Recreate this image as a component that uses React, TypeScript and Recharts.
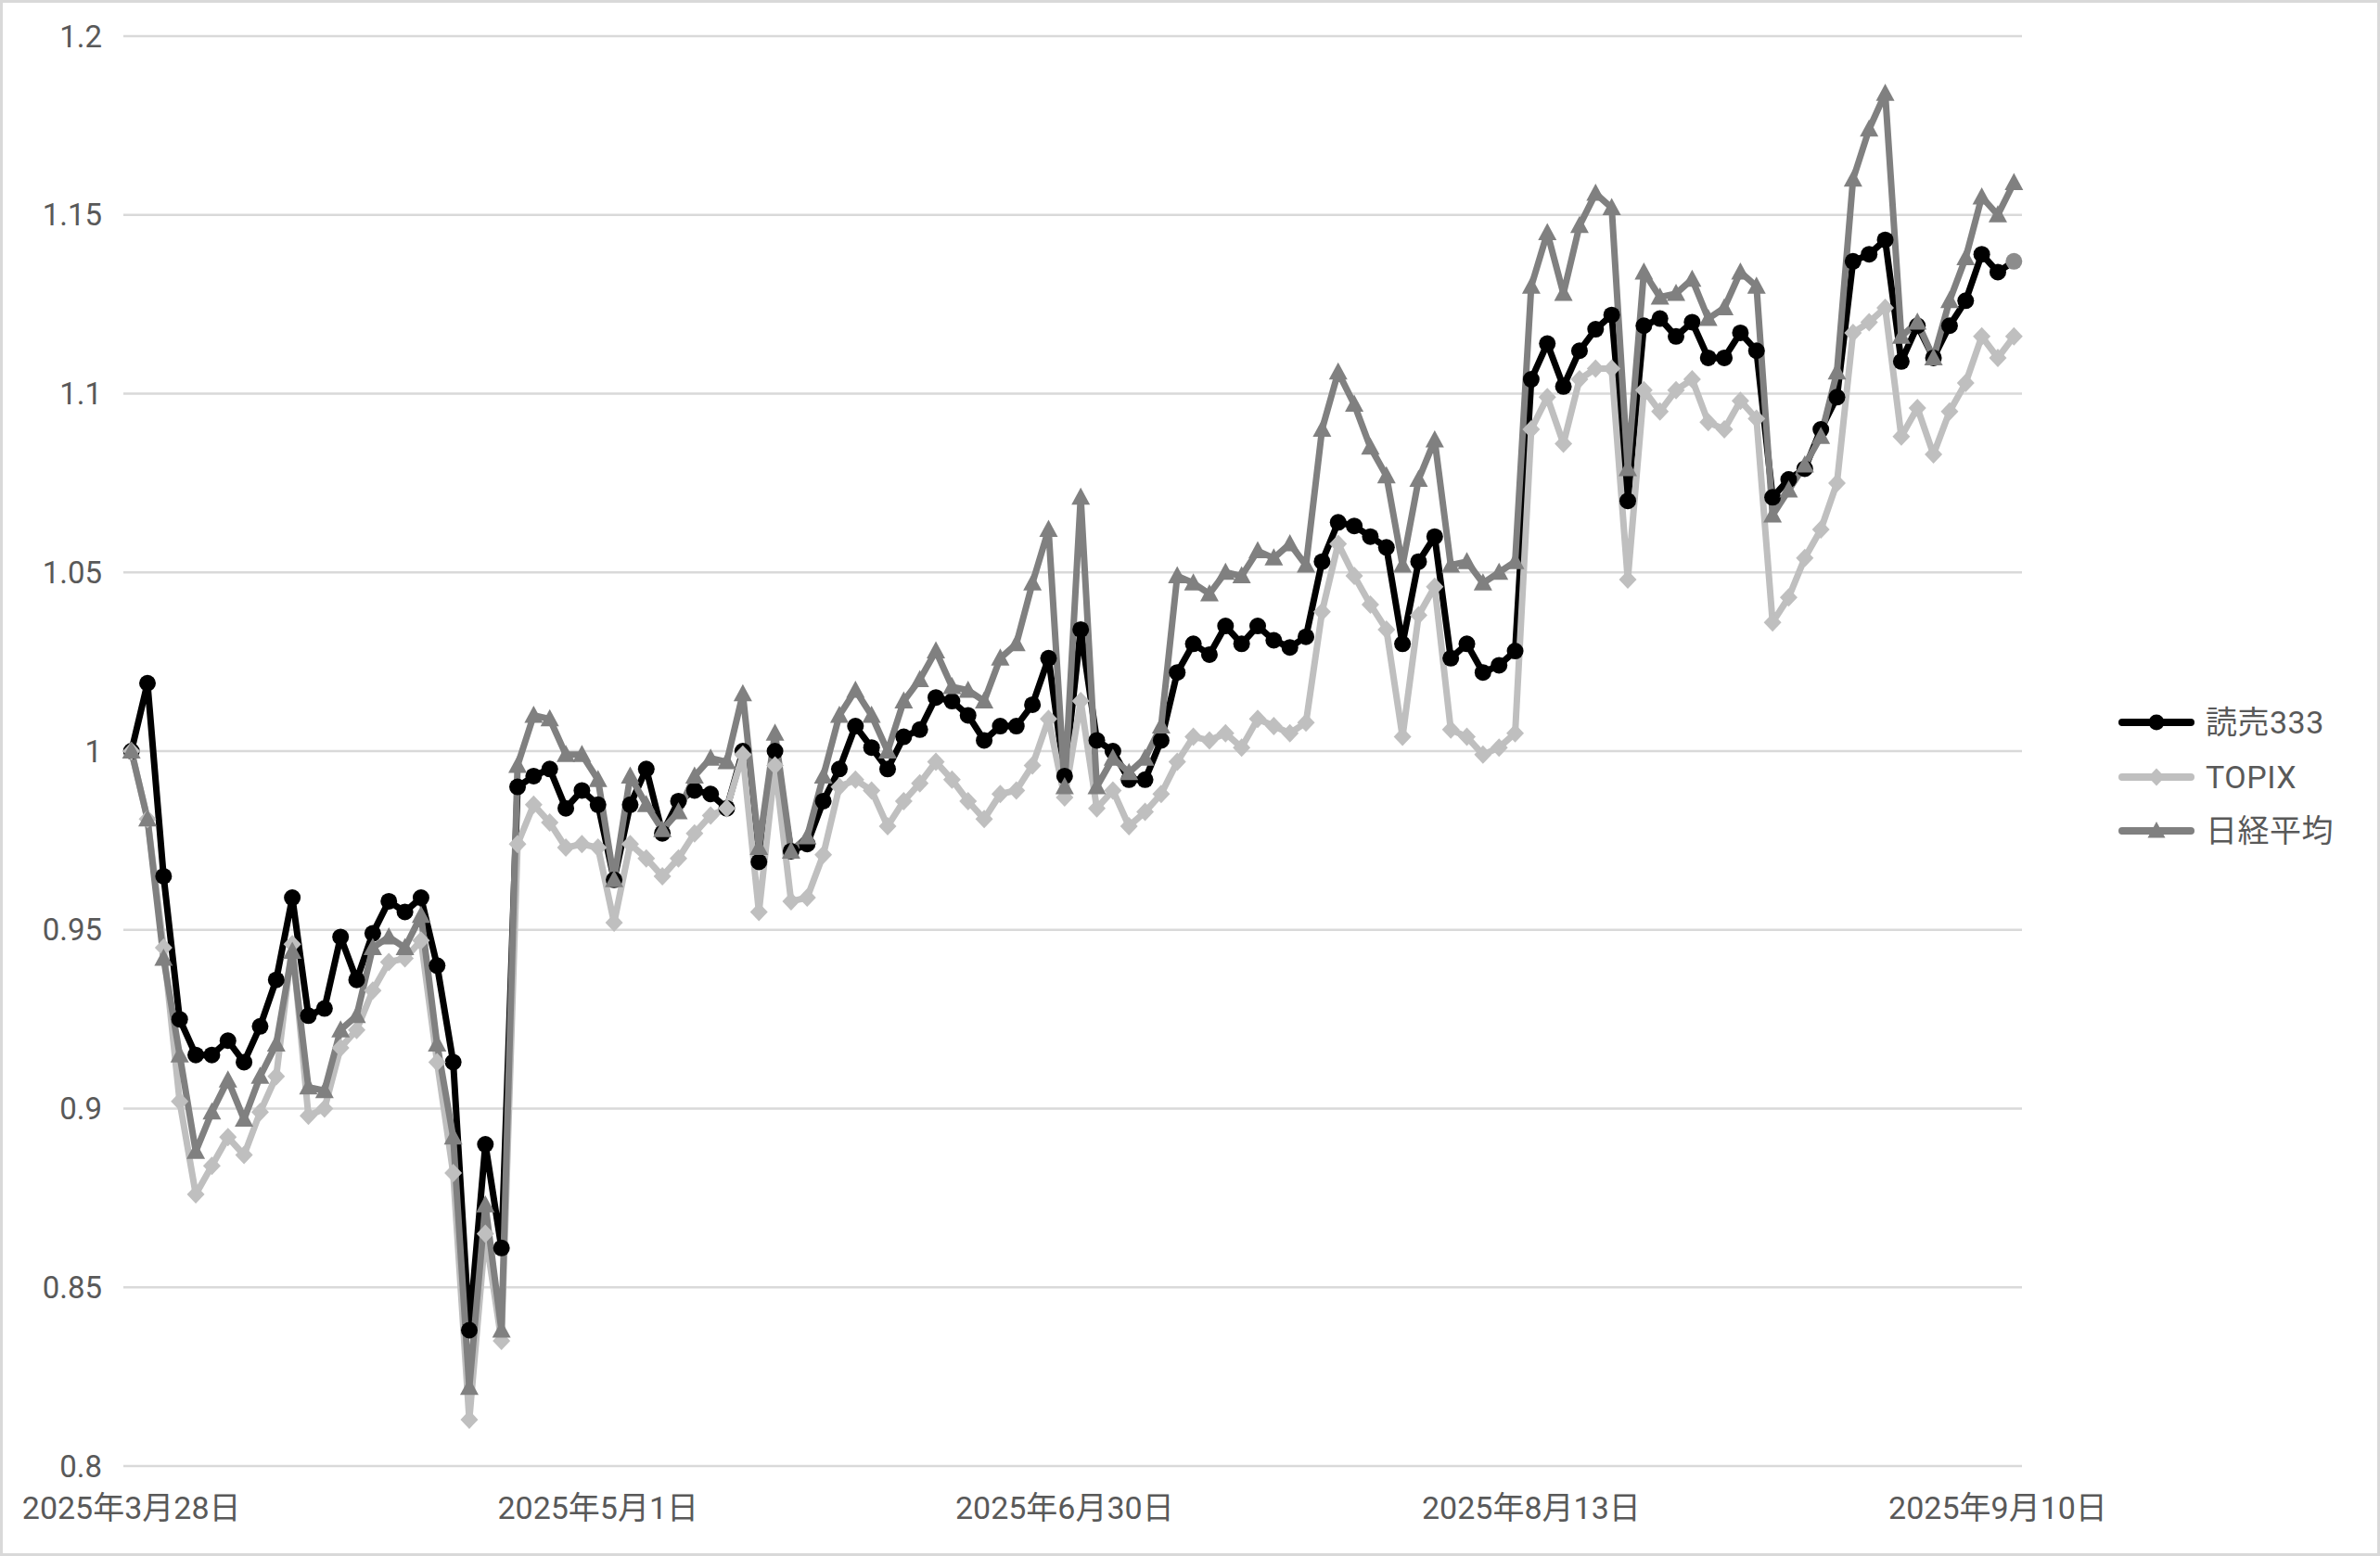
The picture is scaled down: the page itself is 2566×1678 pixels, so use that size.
import { LineChart, Line, XAxis, YAxis, CartesianGrid } from "recharts";

const tickIndex = [0, 29, 58, 87, 116];
const tickLabels = ["2025年3月28日", "2025年5月1日", "2025年6月30日", "2025年8月13日", "2025年9月10日"];
const yTicks = [0.8, 0.85, 0.9, 0.95, 1, 1.05, 1.1, 1.15, 1.2];

const yomiuri = [
  1.0, 1.019, 0.965, 0.925, 0.915, 0.915, 0.919, 0.913, 0.923, 0.936,
  0.959, 0.926, 0.928, 0.948, 0.936, 0.949, 0.958, 0.955, 0.959, 0.94,
  0.913, 0.838, 0.89, 0.861, 0.99, 0.993, 0.995, 0.984, 0.989, 0.985,
  0.964, 0.985, 0.995, 0.977, 0.986, 0.989, 0.988, 0.984, 1.0, 0.969,
  1.0, 0.972, 0.974, 0.986, 0.995, 1.007, 1.001, 0.995, 1.004, 1.006,
  1.015, 1.014, 1.01, 1.003, 1.007, 1.007, 1.013, 1.026, 0.993, 1.034,
  1.003, 1.0, 0.992, 0.992, 1.003, 1.022, 1.03, 1.027, 1.035, 1.03,
  1.035, 1.031, 1.029, 1.032, 1.053, 1.064, 1.063, 1.06, 1.057, 1.03,
  1.053, 1.06, 1.026, 1.03, 1.022, 1.024, 1.028, 1.104, 1.114, 1.102,
  1.112, 1.118, 1.122, 1.07, 1.119, 1.121, 1.116, 1.12, 1.11, 1.11,
  1.117, 1.112, 1.071, 1.076, 1.079, 1.09, 1.099, 1.137, 1.139, 1.143,
  1.109, 1.119, 1.11, 1.119, 1.126, 1.139, 1.134, 1.137,
];

const topix = [
  1.0, 0.981, 0.945, 0.902, 0.876, 0.884, 0.892, 0.887, 0.899, 0.909,
  0.946, 0.898, 0.9, 0.917, 0.922, 0.933, 0.941, 0.942, 0.947, 0.913,
  0.882, 0.813, 0.865, 0.835, 0.974, 0.985, 0.98, 0.973, 0.974, 0.973,
  0.952, 0.974, 0.97, 0.965, 0.97, 0.977, 0.982, 0.984, 0.999, 0.955,
  0.996, 0.958, 0.959, 0.971, 0.99, 0.992, 0.989, 0.979, 0.986, 0.991,
  0.997, 0.992, 0.986, 0.981, 0.988, 0.989, 0.996, 1.009, 0.987, 1.014,
  0.984, 0.989, 0.979, 0.983, 0.988, 0.997, 1.004, 1.003, 1.005, 1.001,
  1.009, 1.007, 1.005, 1.008, 1.039, 1.058, 1.049, 1.041, 1.034, 1.004,
  1.038, 1.046, 1.006, 1.004, 0.999, 1.001, 1.005, 1.09, 1.099, 1.086,
  1.104, 1.107, 1.107, 1.048, 1.101, 1.095, 1.101, 1.104, 1.092, 1.09,
  1.098, 1.093, 1.036, 1.043, 1.054, 1.062, 1.075, 1.117, 1.12, 1.124,
  1.088, 1.096, 1.083, 1.095, 1.103, 1.116, 1.11, 1.116,
];

const nikkei = [
  1.0, 0.981, 0.942, 0.915, 0.888, 0.899, 0.908, 0.897, 0.909, 0.918,
  0.944, 0.906, 0.905, 0.922, 0.926, 0.945, 0.948, 0.945, 0.954, 0.918,
  0.892, 0.822, 0.873, 0.838, 0.996, 1.01, 1.009, 0.999, 0.999, 0.992,
  0.964, 0.993, 0.985, 0.978, 0.983, 0.993, 0.998, 0.997, 1.016, 0.973,
  1.005, 0.972, 0.976, 0.993, 1.01, 1.017, 1.01, 1.0, 1.014, 1.02,
  1.028, 1.018, 1.017, 1.014, 1.026, 1.03, 1.047, 1.062, 0.99, 1.071,
  0.99, 0.998, 0.994, 0.998, 1.007, 1.049, 1.047, 1.044, 1.05, 1.049,
  1.056, 1.054, 1.058, 1.052, 1.09, 1.106, 1.097, 1.085, 1.077, 1.052,
  1.076, 1.087, 1.052, 1.053, 1.047, 1.05, 1.053, 1.13, 1.145, 1.128,
  1.147, 1.156, 1.152, 1.079, 1.134, 1.127, 1.128, 1.132, 1.121, 1.124,
  1.134, 1.13, 1.066, 1.073, 1.08, 1.088, 1.106, 1.16, 1.174, 1.184,
  1.116, 1.12, 1.11, 1.126, 1.138, 1.155, 1.15, 1.159,
];

const data = yomiuri.map((v, i) => ({ i, yomiuri: v, topix: topix[i], nikkei: nikkei[i] }));

const FONT = "Roboto, 'Noto Sans CJK JP', sans-serif";
const TEXT = "#595959";

const circleDot = (props: any) => {
  const { cx, cy, index } = props;
  const last = index === yomiuri.length - 1;
  return <circle key={`c${index}`} cx={cx} cy={cy} r={9} fill={last ? "#8c8c8c" : "#000"} />;
};

const diamondDot = (props: any) => {
  const { cx, cy, index } = props;
  return (
    <path key={`d${index}`} d={`M${cx},${cy - 10} L${cx + 9.5},${cy} L${cx},${cy + 10} L${cx - 9.5},${cy} Z`} fill="#bfbfbf" />
  );
};

const triangleDot = (props: any) => {
  const { cx, cy, index } = props;
  return (
    <path key={`t${index}`} d={`M${cx},${cy - 10.5} L${cx + 10},${cy + 8} L${cx - 10},${cy + 8} Z`} fill="#808080" />
  );
};

const legendItems = [
  { name: "読売333", color: "#000", shape: "circle" },
  { name: "TOPIX", color: "#bfbfbf", shape: "diamond" },
  { name: "日経平均", color: "#808080", shape: "triangle" },
];

const LegendBox = () => (
  <div style={{ position: "absolute", left: 2284, top: 750, fontFamily: FONT }}>
    {legendItems.map((it) => (
      <div key={it.name} style={{ display: "flex", alignItems: "center", height: 58.5 }}>
        <svg width={82} height={30}>
          <line x1={4} y1={15} x2={78} y2={15} stroke={it.color} strokeWidth={8} strokeLinecap="round" />
          {it.shape === "circle" && <circle cx={41} cy={15} r={8.5} fill={it.color} />}
          {it.shape === "diamond" && <path d="M41,5.5 L50,15 L41,24.5 L32,15 Z" fill={it.color} />}
          {it.shape === "triangle" && <path d="M41,5 L50.5,22.5 L31.5,22.5 Z" fill={it.color} />}
        </svg>
        <span style={{ marginLeft: 12, fontSize: 34, color: TEXT, lineHeight: 1, letterSpacing: 0.5 }}>{it.name}</span>
      </div>
    ))}
  </div>
);

export default function App() {
  return (
    <div style={{ position: "absolute", left: 0, top: 0, width: 2566, height: 1678, background: "#fff", fontFamily: FONT }}>
      <LineChart width={2566} height={1678} data={data} margin={{ top: 39, right: 386, bottom: 0, left: 0 }}>
        <CartesianGrid vertical={false} stroke="#d9d9d9" strokeWidth={2.5} />
        <XAxis
          dataKey="i"
          type="number"
          height={97}
          domain={[-0.5, 117.5]}
          ticks={tickIndex}
          tickFormatter={(v: number) => tickLabels[tickIndex.indexOf(v)]}
          axisLine={false}
          tickLine={false}
          tickSize={0}
          tickMargin={33}
          tick={{ fill: TEXT, fontSize: 34, fontFamily: FONT }}
          interval={0}
        />
        <YAxis
          width={133}
          domain={[0.8, 1.2]}
          ticks={yTicks}
          tickFormatter={(v: number) => String(Number(v.toFixed(2)))}
          axisLine={false}
          tickLine={false}
          tickSize={0}
          tickMargin={23}
          tick={{ fill: TEXT, fontSize: 33, fontFamily: FONT }}
          interval={0}
        />
        <Line dataKey="yomiuri" stroke="#000" strokeWidth={7} strokeLinejoin="round" dot={circleDot} isAnimationActive={false} />
        <Line dataKey="topix" stroke="#bfbfbf" strokeWidth={7} strokeLinejoin="round" dot={diamondDot} isAnimationActive={false} />
        <Line dataKey="nikkei" stroke="#808080" strokeWidth={7} strokeLinejoin="round" dot={triangleDot} isAnimationActive={false} />
      </LineChart>
      <LegendBox />
      <div style={{ position: "absolute", inset: 0, border: "3px solid #d9d9d9", pointerEvents: "none" }} />
    </div>
  );
}
